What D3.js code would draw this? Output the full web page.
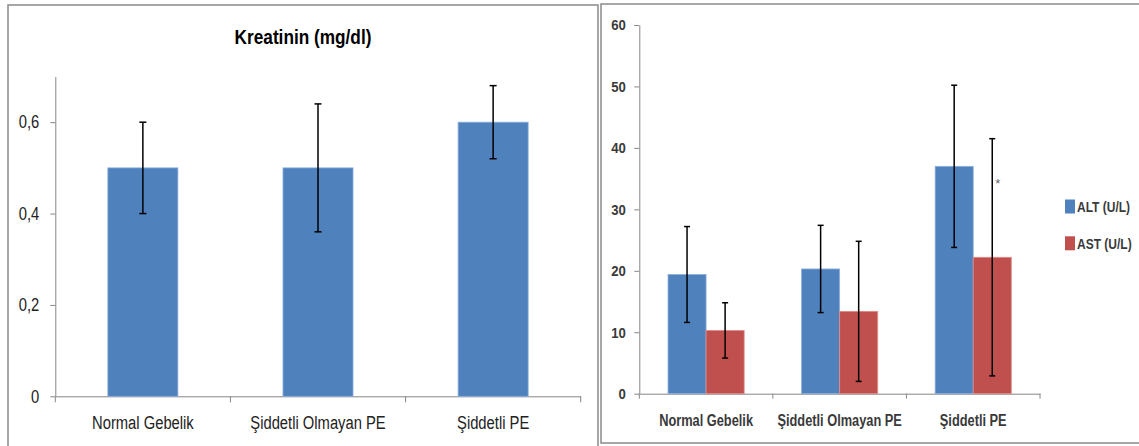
<!DOCTYPE html>
<html>
<head>
<meta charset="utf-8">
<script src="https://cdn.jsdelivr.net/npm/d3@7"></script>
<style>
  html, body { margin: 0; padding: 0; background: #fff; }
  svg text { font-family: "Liberation Sans", Arial, sans-serif; }
  .axis path, .axis line { stroke: #868686; }
</style>
</head>
<body>
<svg id="chart" width="1139" height="446"></svg>
<script>
const categories = ['Normal Gebelik', 'Şiddetli Olmayan PE', 'Şiddetli PE'];

// left panel: kreatinin
const kreatininMean = [0.5, 0.5, 0.6];
const kreatininErr = [0.1, 0.14, 0.08];
const kreatininTicks = [0, 0.2, 0.4, 0.6];

// right panel: liver enzymes
const seriesNames = ['ALT (U/L)', 'AST (U/L)'];
const altMean = [19.4, 20.3, 37.0];
const altErr = [7.8, 7.1, 13.2];
const astMean = [10.3, 13.4, 22.2];
const astErr = [4.5, 11.4, 19.3];
const astMark = ['', '', '*'];
const enzymeTicks = [0, 10, 20, 30, 40, 50, 60];

const blue = '#4f81bd';
const red = '#c0504d';

const svg = d3.select('#chart');

// the original uses a narrow face; squeeze the text horizontally
function squeeze(sel, f) {
    sel.each(function() {
        const w = this.getComputedTextLength();
        d3.select(this).attr('textLength', w * f).attr('lengthAdjust', 'spacingAndGlyphs');
    });
}

// panel frames
svg.append('rect')
    .attr('x', 8).attr('y', 5).attr('width', 590).attr('height', 460)
    .attr('fill', 'none').attr('stroke', '#8a8a8a').attr('stroke-width', 1.5);
svg.append('rect')
    .attr('x', 601).attr('y', 4).attr('width', 600).attr('height', 439)
    .attr('fill', 'none').attr('stroke', '#8a8a8a').attr('stroke-width', 1.5);

function errorBar(g, x, y, lo, hi, cap) {
    g.append('line').attr('x1', x).attr('x2', x).attr('y1', y(hi)).attr('y2', y(lo))
        .attr('stroke', '#000').attr('stroke-width', 1.5);
    [lo, hi].forEach(v => {
        g.append('line').attr('x1', x - cap).attr('x2', x + cap).attr('y1', y(v)).attr('y2', y(v))
            .attr('stroke', '#000').attr('stroke-width', 1.5);
    });
}

function boundaryTicks(g, x, y0, len) {
    const edges = categories.map(c => x(c)).concat([x.range()[1]]);
    g.selectAll('.btick').data(edges).enter().append('line')
        .attr('class', 'btick')
        .attr('x1', d => d).attr('x2', d => d)
        .attr('y1', y0).attr('y2', y0 + len)
        .attr('stroke', '#868686');
}

// ---- left chart ----
const xL = d3.scaleBand().domain(categories).range([55.3, 580.7]);
const yL = d3.scaleLinear().domain([0, 0.7]).range([396.3, 76.5]);
const gL = svg.append('g');

gL.append('text')
    .attr('x', 303).attr('y', 44)
    .attr('text-anchor', 'middle')
    .attr('font-size', '21px').attr('font-weight', 'bold')
    .attr('fill', '#000')
    .text('Kreatinin (mg/dl)')
    .call(squeeze, 0.82);

gL.append('g').attr('class', 'axis')
    .attr('transform', 'translate(55.3,0)')
    .call(d3.axisLeft(yL).tickValues(kreatininTicks).tickSize(5).tickSizeOuter(0).tickPadding(11)
        .tickFormat(d => d === 0 ? '0' : d.toFixed(1).replace('.', ',')))
    .call(a => a.selectAll('text').attr('font-size', '18px').attr('fill', '#222').call(squeeze, 0.82));

gL.append('g').attr('class', 'axis')
    .attr('transform', 'translate(0,396.3)')
    .call(d3.axisBottom(xL).tickSize(0).tickSizeOuter(0).tickPadding(20))
    .call(a => a.selectAll('text').attr('font-size', '18px').attr('fill', '#222').call(squeeze, 0.82));
boundaryTicks(gL, xL, 396.3, 6);

const bwL = xL.bandwidth() * 0.4;
gL.selectAll('.kbar').data(kreatininMean).enter().append('rect')
    .attr('class', 'kbar')
    .attr('x', (d, i) => xL(categories[i]) + (xL.bandwidth() - bwL) / 2)
    .attr('y', d => yL(d))
    .attr('width', bwL)
    .attr('height', d => yL(0) - yL(d))
    .attr('fill', blue).attr('stroke', '#8eb0dc').attr('stroke-width', 0.8);

kreatininMean.forEach((m, i) => {
    const cx = xL(categories[i]) + xL.bandwidth() / 2;
    errorBar(gL, cx, yL, m - kreatininErr[i], m + kreatininErr[i], 3.5);
});

// ---- right chart ----
const xR = d3.scaleBand().domain(categories).range([639.3, 1040]);
const yR = d3.scaleLinear().domain([0, 60]).range([393.7, 25]);
const gR = svg.append('g');

gR.append('g').attr('class', 'axis')
    .attr('transform', 'translate(639.3,0)')
    .call(d3.axisLeft(yR).tickValues(enzymeTicks).tickSize(5).tickSizeOuter(0).tickPadding(8.5))
    .call(a => a.selectAll('text').attr('font-size', '15.5px').attr('font-weight', 'bold')
        .attr('fill', '#3a3a3a').call(squeeze, 0.85));

gR.append('g').attr('class', 'axis')
    .attr('transform', 'translate(0,393.7)')
    .call(d3.axisBottom(xR).tickSize(0).tickSizeOuter(0).tickPadding(21))
    .call(a => a.selectAll('text').attr('font-size', '16px').attr('font-weight', 'bold')
        .attr('fill', '#3a3a3a').call(squeeze, 0.8));
boundaryTicks(gR, xR, 393.7, 5);

const bwR = xR.bandwidth() * 0.285;
const series = [
    { name: seriesNames[0], mean: altMean, err: altErr, color: blue, edge: '#8eb0dc' },
    { name: seriesNames[1], mean: astMean, err: astErr, color: red, edge: '#dc8c8a' }
];

series.forEach((s, k) => {
    s.mean.forEach((m, i) => {
        const x0 = xR(categories[i]) + xR.bandwidth() / 2 - bwR + k * bwR;
        gR.append('rect')
            .attr('x', x0).attr('y', yR(m))
            .attr('width', bwR).attr('height', yR(0) - yR(m))
            .attr('fill', s.color).attr('stroke', s.edge).attr('stroke-width', 0.8);
    });
});
series.forEach((s, k) => {
    s.mean.forEach((m, i) => {
        const cx = xR(categories[i]) + xR.bandwidth() / 2 - bwR + k * bwR + bwR / 2;
        errorBar(gR, cx, yR, m - s.err[i], m + s.err[i], 3);
    });
});

astMark.forEach((t, i) => {
    if (!t) return;
    const cx = xR(categories[i]) + xR.bandwidth() / 2 + bwR / 2;
    gR.append('text')
        .attr('x', cx + 3).attr('y', yR(34.5) + 6)
        .attr('font-size', '13px').attr('fill', '#666')
        .text(t);
});

// legend
const legend = gR.append('g').attr('transform', 'translate(1065,0)');
const legendY = [206.5, 243.3];
series.forEach((s, k) => {
    legend.append('rect')
        .attr('x', 0).attr('y', legendY[k] - 7)
        .attr('width', 10).attr('height', 14)
        .attr('fill', s.color);
    legend.append('g')
        .attr('transform', `translate(12,${legendY[k]}) scale(0.8,1)`)
        .append('text')
        .attr('dy', '0.35em')
        .attr('font-size', '15px').attr('font-weight', 'bold').attr('fill', '#3a3a3a')
        .text(s.name);
});
</script>
</body>
</html>
